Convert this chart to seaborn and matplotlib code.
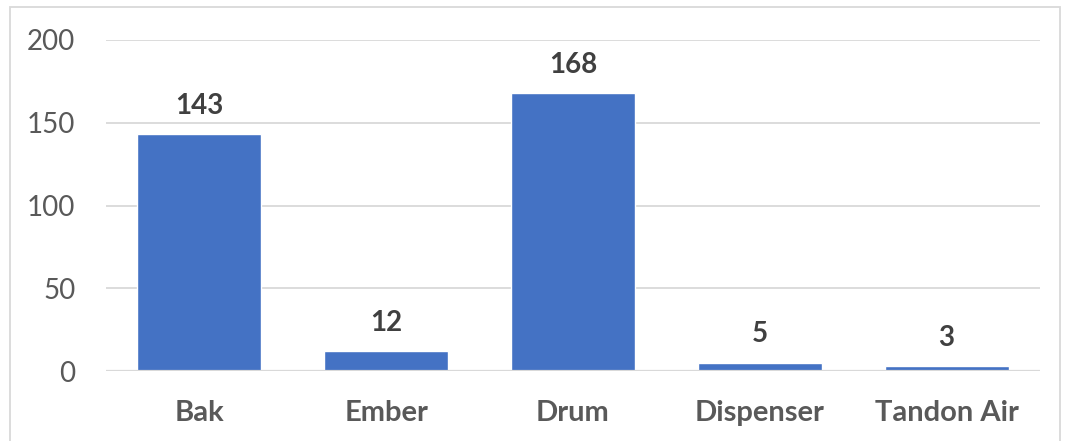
import matplotlib.pyplot as plt
import seaborn as sns
from matplotlib.patches import Rectangle

categories = ['Bak', 'Ember', 'Drum', 'Dispenser', 'Tandon Air']
values = [143, 12, 168, 5, 3]
y_ticks = [0, 50, 100, 150, 200]

sns.set_theme(style="white")
plt.rcParams['font.family'] = ['Lato', 'DejaVu Sans']

fig = plt.figure(figsize=(10.67, 4.41), dpi=100)
ax = fig.add_axes([106 / 1067, 1 - 371 / 441, 934 / 1067, 331 / 441])

sns.barplot(x=categories, y=values, color='#4472C4', saturation=1,
            width=0.664, errorbar=None, ax=ax, zorder=3)

ax.set_ylim(0, 200)
ax.set_yticks(y_ticks)
ax.grid(axis='y', color='#D9D9D9', linewidth=1.3, zorder=0)
ax.set_axisbelow(True)
sns.despine(ax=ax, left=True, bottom=True, top=True, right=True)
ax.axhline(0, color='#D9D9D9', linewidth=1.6, zorder=4)

ax.tick_params(axis='y', length=0, pad=22, labelsize=20, labelcolor='#595959')
ax.tick_params(axis='x', length=0, pad=21, labelsize=21, labelcolor='#595959')
for lbl in ax.get_xticklabels():
    lbl.set_fontweight('bold')
ax.set_xlabel('')
ax.set_ylabel('')

for container in ax.containers:
    ax.bar_label(container, labels=[str(v) for v in values], padding=11,
                 fontsize=20, fontweight='bold', color='#404040')

# light outer chart border like the original
fig.patches.append(Rectangle((10 / 1067, -0.05), 1050 / 1067, 1 - 7 / 441 + 0.05,
                             transform=fig.transFigure, fill=False,
                             edgecolor='#D9D9D9', linewidth=1.3))

fig.savefig('out.png', dpi=100)
